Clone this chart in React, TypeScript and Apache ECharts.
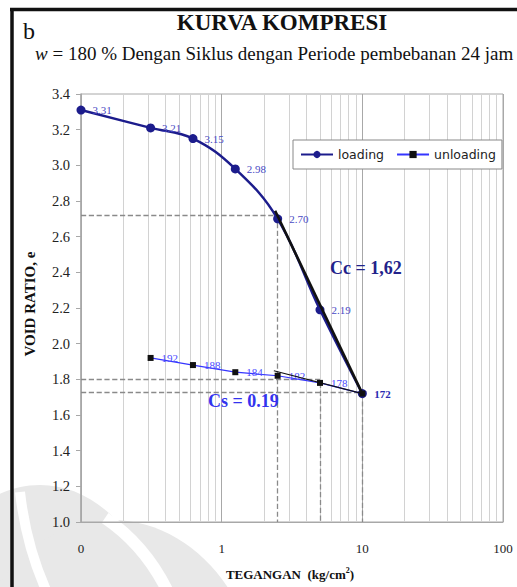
import React, { useEffect, useRef } from "react";
import * as echarts from "echarts";

// ---- data ----
const loadX = [0.1, 0.3125, 0.625, 1.25, 2.5, 5, 10];
const loadE = [3.31, 3.21, 3.15, 2.98, 2.7, 2.19, 1.72];
const unloadX = [10, 5, 2.5, 1.25, 0.625, 0.3125];
const unloadE = [1.72, 1.78, 1.82, 1.84, 1.88, 1.92];
const unloadLabels = ["172", "178", "182", "184", "188", "192"];
const xTickLabels: Record<string, string> = { "0.1": "0", "1": "1", "10": "10", "100": "100" };
const minorGrid = [0.2, 0.3, 0.4, 0.5, 0.6, 0.7, 0.8, 0.9, 2, 3, 4, 5, 6, 7, 8, 9, 20, 30, 40, 50, 60, 70, 80, 90];
const ccTangent = [[2.4, 2.745], [10, 1.72]];
const csTangent = [[2.35, 1.848], [10, 1.72]];
const guides = [
  [[0.1, 2.72], [2.5, 2.72]],
  [[2.5, 2.72], [2.5, 1.0]],
  [[0.1, 1.8], [5, 1.8]],
  [[5, 1.78], [5, 1.0]],
  [[0.1, 1.73], [10, 1.73]],
  [[10, 1.72], [10, 1.0]],
];

const SERIF = "Liberation Serif, serif";

export default function App() {
  const ref = useRef<HTMLDivElement>(null);
  useEffect(() => {
    if (!ref.current) return;
    const chart = echarts.init(ref.current, null, { renderer: "svg" });
    const lastLoad = loadX.length - 1;
    const option: any = {
      animation: false,
      backgroundColor: "#fff",
      grid: { left: 81, top: 94, width: 422, height: 428, show: true, borderColor: "#a8a8a8", borderWidth: 1, backgroundColor: "transparent" },
      legend: {
        data: [{ name: "loading" }, { name: "unloading" }],
        left: 293, top: 140, z: 8,
        itemWidth: 32, itemHeight: 9, itemGap: 12,
        padding: [8, 6, 8, 7],
        borderColor: "#888", borderWidth: 1, backgroundColor: "#fff",
        textStyle: { fontFamily: "DejaVu Sans", fontSize: 12.5, color: "#222" },
      },
      xAxis: {
        type: "log", logBase: 10, min: 0.1, max: 100,
        axisLine: { lineStyle: { color: "#a8a8a8", width: 1 } },
        axisTick: { show: false },
        axisLabel: {
          margin: 20, fontFamily: SERIF, fontSize: 13, color: "#222",
          formatter: (v: number) => xTickLabels[String(v)] ?? String(v),
        },
        splitLine: { show: true, lineStyle: { color: "#a8a8a8", width: 1 } },
      },
      yAxis: {
        type: "value", min: 1.0, max: 3.4, interval: 0.2,
        axisLine: { show: true, lineStyle: { color: "#a8a8a8", width: 1.5 } },
        axisTick: { show: true, length: 5, lineStyle: { color: "#a8a8a8" } },
        axisLabel: { margin: 11, fontFamily: SERIF, fontSize: 14.5, color: "#222", formatter: (v: number) => v.toFixed(1) },
        splitLine: { show: false },
      },
      series: [
        {
          name: "grid-minor", type: "line", data: [], silent: true, z: 0,
          markLine: {
            silent: true, symbol: ["none", "none"], label: { show: false }, z: 0,
            lineStyle: { color: "#d2d2d2", width: 1, type: "solid" },
            data: minorGrid.map((v) => ({ xAxis: v })),
          },
        },
        {
          name: "guides", type: "line", data: [], silent: true, z: 1,
          markLine: {
            silent: true, symbol: ["none", "none"], label: { show: false }, z: 1,
            lineStyle: { color: "#8a8a8a", width: 1.3, type: "dashed" },
            data: guides.map((g) => [{ coord: g[0] }, { coord: g[1] }]),
          },
        },
        {
          name: "loading", type: "line", smooth: 0.4, z: 10,
          data: loadX.map((x, i) => ({ value: [x, loadE[i]], label: i === lastLoad ? { show: false } : undefined })),
          symbol: "circle", symbolSize: 9,
          lineStyle: { color: "#1c1c8c", width: 2.5, type: "solid" },
          itemStyle: { color: "#1c1c8c" },
          label: {
            show: true, position: "right", distance: 7,
            fontFamily: SERIF, fontSize: 11, color: "#4a4ac4",
            formatter: (p: any) => p.value[1].toFixed(2),
          },
        },
        {
          name: "unloading", type: "line", z: 10,
          data: unloadX.map((x, i) => ({
            value: [x, unloadE[i]],
            label: i === 0 ? { fontWeight: "bold", color: "#2a2ab0", distance: 9 } : undefined,
          })),
          symbol: "rect", symbolSize: 6,
          lineStyle: { color: "#3535ff", width: 1.2, type: "solid" },
          itemStyle: { color: "#111" },
          label: {
            show: true, position: "right", distance: 8,
            fontFamily: SERIF, fontSize: 11, color: "#4a4aff",
            formatter: (p: any) => unloadLabels[p.dataIndex],
          },
        },
        {
          name: "Cc tangent", type: "line", data: ccTangent, symbol: "none", z: 11, silent: true,
          lineStyle: { color: "#111", width: 2.6, type: "solid" },
        },
        {
          name: "Cs tangent", type: "line", data: csTangent, symbol: "none", z: 11, silent: true,
          lineStyle: { color: "#111", width: 1.2, type: "solid" },
        },
      ],
      graphic: [
        // watermark
        { type: "ellipse", z: -10, shape: { cx: 40, cy: 640, rx: 120, ry: 155 }, style: { fill: "#e8e8e8" } },
        { type: "ellipse", z: -10, shape: { cx: 112, cy: 705, rx: 150, ry: 185 }, style: { fill: "#e8e8e8" } },
        { type: "bezierCurve", z: -9, shape: { x1: 20, y1: 492, x2: 46, y2: 590, cpx1: 26, cpy1: 545 }, style: { stroke: "#fff", lineWidth: 10, fill: "none" } },
        { type: "bezierCurve", z: -9, shape: { x1: 105, y1: 518, x2: 168, y2: 592, cpx1: 145, cpy1: 545 }, style: { stroke: "#fff", lineWidth: 12, fill: "none" } },
        // frame
        { type: "line", z: 20, shape: { x1: 12, y1: 8, x2: 12, y2: 587 }, style: { stroke: "#111", lineWidth: 3.5 } },
        { type: "line", z: 20, shape: { x1: 10, y1: 9.5, x2: 517, y2: 9.5 }, style: { stroke: "#111", lineWidth: 3.5 } },
        // titles
        { type: "text", z: 20, x: 23, y: 31, style: { text: "b", fontFamily: SERIF, fontSize: 24, fill: "#111", textAlign: "left", textVerticalAlign: "middle" } },
        { type: "text", z: 20, x: 282, y: 22, style: { text: "KURVA KOMPRESI", fontFamily: SERIF, fontSize: 23, fontWeight: "bold", fill: "#111", textAlign: "center", textVerticalAlign: "middle" } },
        {
          type: "text", z: 20, x: 35, y: 53,
          style: {
            text: "{i|w}{m| = 180 % Dengan Siklus dengan Periode pembebanan 24 jam}",
            fontFamily: SERIF, fontSize: 19, fill: "#111", textAlign: "left", textVerticalAlign: "middle",
            rich: {
              i: { fontFamily: SERIF, fontSize: 19, fontStyle: "italic", fill: "#111" },
              m: { fontFamily: SERIF, fontSize: 19, fill: "#111" },
            },
          },
        },
        { type: "text", z: 20, x: 30, y: 304, rotation: Math.PI / 2, style: { text: "VOID RATIO, e", fontFamily: SERIF, fontSize: 15, fontWeight: "bold", fill: "#111", textAlign: "center", textVerticalAlign: "middle" } },
        {
          type: "text", z: 20, x: 290, y: 574,
          style: {
            text: "{m|TEGANGAN  (kg/cm}{s|2}{m|)}",
            textAlign: "center", textVerticalAlign: "middle",
            rich: {
              m: { fontFamily: SERIF, fontSize: 13, fontWeight: "bold", fill: "#111", lineHeight: 16 },
              s: { fontFamily: SERIF, fontSize: 8, fontWeight: "bold", fill: "#111", verticalAlign: "top", lineHeight: 16, padding: [0, 0, 8, 0] },
            },
          },
        },
        { type: "text", z: 20, x: 330, y: 268, style: { text: "Cc = 1,62", fontFamily: SERIF, fontSize: 18, fontWeight: "bold", fill: "#22228a", textAlign: "left", textVerticalAlign: "middle" } },
        { type: "text", z: 20, x: 208, y: 401, style: { text: "Cs = 0.19", fontFamily: SERIF, fontSize: 18, fontWeight: "bold", fill: "#3333ee", textAlign: "left", textVerticalAlign: "middle" } },
      ],
    };
    chart.setOption(option);
    return () => chart.dispose();
  }, []);
  return <div ref={ref} style={{ position: "fixed", left: 0, top: 0, width: 517, height: 587 }} />;
}
